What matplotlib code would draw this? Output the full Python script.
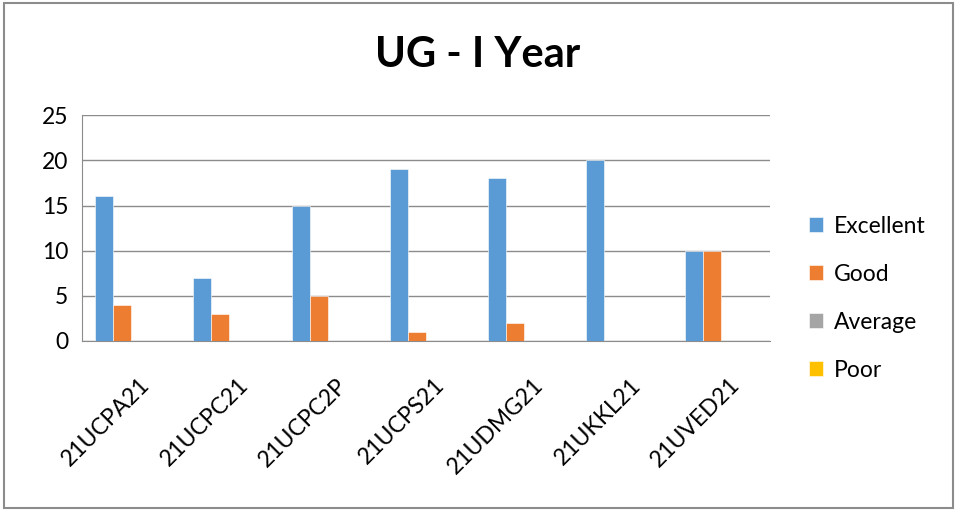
import numpy as np
import matplotlib
matplotlib.use("Agg")
import matplotlib.pyplot as plt
import matplotlib.patches as patches
import matplotlib.transforms as mtransforms

plt.rcParams['font.family'] = ['Lato', 'DejaVu Sans']

categories = ["21UCPA21", "21UCPC21", "21UCPC2P", "21UCPS21", "21UDMG21", "21UKKL21", "21UVED21"]
series_names = ["Excellent", "Good", "Average", "Poor"]
excellent = [16, 7, 15, 19, 18, 20, 10]
good = [4, 3, 5, 1, 2, 0, 10]
average = [0, 0, 0, 0, 0, 0, 0]
poor = [0, 0, 0, 0, 0, 0, 0]
colors = ["#5B9BD5", "#ED7D31", "#A5A5A5", "#FFC000"]

fig = plt.figure(figsize=(9.58, 5.12), dpi=100)
ax = fig.add_axes([0.0856, 0.334, 0.718, 0.441])

x = np.arange(len(categories))
w = 0.183
for i, (name, vals) in enumerate(zip(series_names, [excellent, good, average, poor])):
    ax.bar(x + (i - 1.5) * w, vals, width=w, color=colors[i], label=name,
           edgecolor="white", linewidth=0.4, zorder=3)

ax.set_xlim(-0.5, len(categories) - 0.5)
ax.set_ylim(0, 25)
ax.set_yticks(range(0, 26, 5))
ax.yaxis.grid(True, color="#8c8c8c", linewidth=1, zorder=0)
ax.set_axisbelow(True)
for s in ["top", "right"]:
    ax.spines[s].set_visible(False)
ax.spines["left"].set_color("#8c8c8c")
ax.spines["bottom"].set_color("#8c8c8c")
ax.tick_params(axis="both", length=0, labelsize=16.5, colors="black")
ax.tick_params(axis="y", pad=10)
ax.set_xticks(x)
ax.set_xticklabels(categories, rotation=45, ha="right", rotation_mode="anchor")
ax.tick_params(axis="x", pad=24)
shift = mtransforms.ScaledTranslation(8 / 100, 0, fig.dpi_scale_trans)
for lbl in ax.get_xticklabels():
    lbl.set_transform(lbl.get_transform() + shift)

fig.text(0.499, 0.892, "UG - I Year", ha="center", va="center",
         fontsize=30, fontweight="bold")

ax.legend(loc="center left", bbox_to_anchor=(1.043, 0.19), frameon=False,
          fontsize=16.5, handlelength=0.65, handleheight=0.65,
          labelspacing=1.18, handletextpad=0.45, borderaxespad=0)

fig.add_artist(patches.Rectangle((0.004, 0.008), 0.991, 0.986, transform=fig.transFigure,
                                 fill=False, edgecolor="#8c8c8c", linewidth=1.5))

fig.savefig("out.png", dpi=100)
